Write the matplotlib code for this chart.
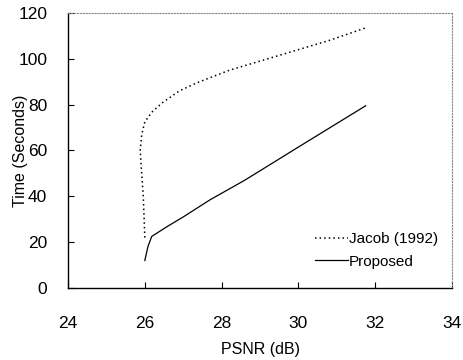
import numpy as np
import matplotlib
matplotlib.use('Agg')
import matplotlib.pyplot as plt

# curves
jacob_psnr = [26.0, 25.96, 25.91, 25.88, 25.92, 26.0, 26.2, 26.47, 26.9, 27.35, 28.2, 29.6, 30.8, 31.75]
jacob_time = [22, 40, 52, 60, 67, 72.5, 77, 81, 86, 89.5, 95, 102, 108, 113.5]

prop_psnr = [26.0, 26.08, 26.18, 26.6, 27.0, 27.7, 28.6, 30.0, 31.75]
prop_time = [12, 18, 22.5, 27, 31, 38.5, 47, 61.5, 79.5]

xticks = [24, 26, 28, 30, 32, 34]
yticks = [0, 20, 40, 60, 80, 100, 120]

plt.rcParams['font.family'] = ['Liberation Sans Narrow', 'Liberation Sans', 'DejaVu Sans']

fig = plt.figure(figsize=(4.64, 3.6), dpi=100)
ax = fig.add_axes([0.1466, 0.2, 0.8276, 0.764])

ax.plot(jacob_psnr, jacob_time, color='black', linestyle=(0, (1, 2)), linewidth=1.1, label='Jacob (1992)')
ax.plot(prop_psnr, prop_time, color='black', linestyle='-', linewidth=0.9, label='Proposed')

ax.set_xlim(24, 34)
ax.set_ylim(0, 120)
ax.set_xticks(xticks)
ax.set_yticks(yticks)
ax.tick_params(direction='in', length=4, width=0.8, labelsize=12.5)
ax.tick_params(axis='x', pad=20)
ax.tick_params(axis='y', pad=15)

for s in ['top', 'right']:
    ax.spines[s].set_linestyle(':')
    ax.spines[s].set_color('#888888')
    ax.spines[s].set_linewidth(0.8)
for s in ['left', 'bottom']:
    ax.spines[s].set_linewidth(1.0)

ax.set_xlabel('PSNR (dB)', fontsize=11.5)
ax.set_ylabel('Time (Seconds)', fontsize=11.5)
ax.xaxis.set_label_coords(0.5, -0.195)
ax.yaxis.set_label_coords(-0.104, 0.5)

ax.legend(loc='lower right', frameon=False, fontsize=11, handlelength=2.2,
          handletextpad=0.05, bbox_to_anchor=(1.0, 0.02), labelspacing=0.55)

fig.savefig('out.png', dpi=100)
